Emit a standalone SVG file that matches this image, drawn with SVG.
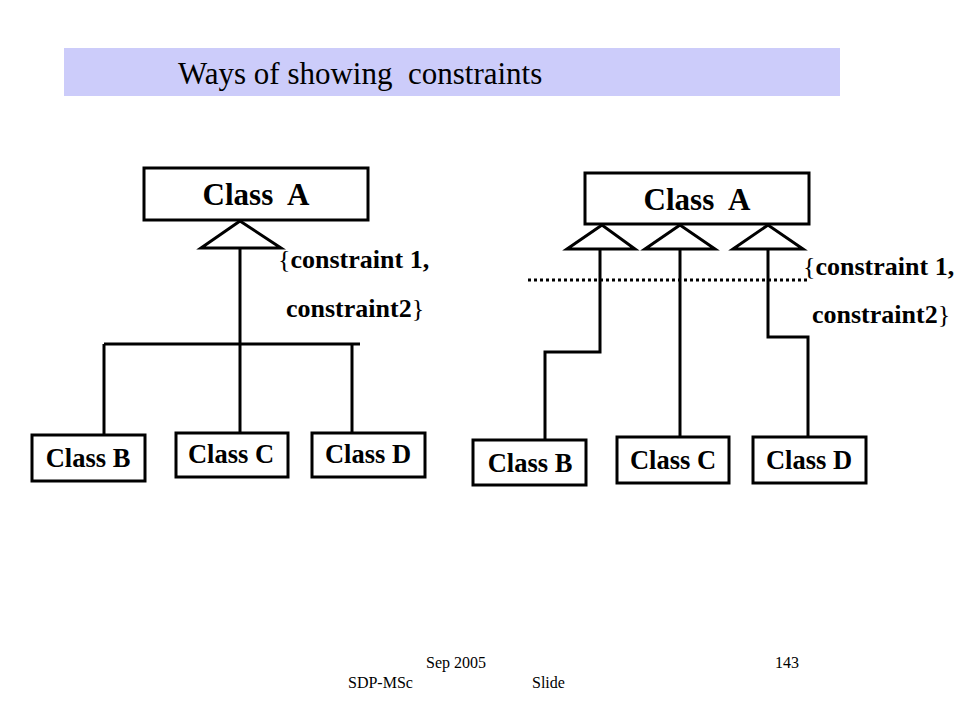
<svg xmlns="http://www.w3.org/2000/svg" width="960" height="720" viewBox="0 0 960 720">
<style>
.box{fill:#fff;stroke:#000;stroke-width:3}
.tri{fill:#fff;stroke:#000;stroke-width:3;stroke-linejoin:miter}
.ln{fill:none;stroke:#000;stroke-width:3}
.dot{fill:none;stroke:#000;stroke-width:3;stroke-dasharray:3 3}
.big{font-weight:bold;font-size:31px;text-anchor:middle}
.cls{font-weight:bold;font-size:26.5px;text-anchor:middle}
.con{font-weight:bold;font-size:26px}
.br{font-weight:normal}
.ttl{font-size:31px}
.foot{font-size:16px}
</style>
<rect width="960" height="720" fill="#fff"/>
<rect x="64" y="48" width="776" height="48" fill="#CCCCFA"/>
<g font-family="Liberation Serif">
<text class="ttl" x="178" y="84" xml:space="preserve">Ways of showing  constraints</text>

<g id="connectors">
  <line class="ln" x1="240" y1="248" x2="240" y2="433"/>
  <line class="ln" x1="104" y1="344" x2="360" y2="344"/>
  <line class="ln" x1="104" y1="344" x2="104" y2="435"/>
  <line class="ln" x1="352" y1="344" x2="352" y2="433"/>
  <polygon class="tri" points="240,221 201,248 281,248"/>
  <line class="dot" x1="528" y1="280" x2="807" y2="280"/>
  <polyline class="ln" points="600,249 600,352 545,352 545,440"/>
  <line class="ln" x1="680" y1="249" x2="680" y2="437"/>
  <polyline class="ln" points="768,249 768,337 808,337 808,437"/>
  <polygon class="tri" points="602,225 567,249 635,249"/>
  <polygon class="tri" points="680,225 645,249 715,249"/>
  <polygon class="tri" points="768,225 733,249 803,249"/>
</g>

<g id="left-classA">
  <rect class="box" x="144" y="168" width="224" height="52"/>
  <text class="big" x="256" y="205" xml:space="preserve">Class  A</text>
</g>
<g id="left-classB">
  <rect class="box" x="32" y="435" width="113" height="46"/>
  <text class="cls" x="88" y="467">Class B</text>
</g>
<g id="left-classC">
  <rect class="box" x="176" y="433" width="112" height="44"/>
  <text class="cls" x="231" y="463">Class C</text>
</g>
<g id="left-classD">
  <rect class="box" x="312" y="433" width="113" height="44"/>
  <text class="cls" x="368" y="463">Class D</text>
</g>
<g id="left-constraint">
  <text class="con" x="278" y="268"><tspan class="br">{</tspan>constraint 1,</text>
  <text class="con" x="286" y="317">constraint2<tspan class="br">}</tspan></text>
</g>

<g id="right-classA">
  <rect class="box" x="585" y="173" width="224" height="51"/>
  <text class="big" x="697" y="210" xml:space="preserve">Class  A</text>
</g>
<g id="right-classB">
  <rect class="box" x="473" y="440" width="113" height="45"/>
  <text class="cls" x="530" y="472">Class B</text>
</g>
<g id="right-classC">
  <rect class="box" x="617" y="437" width="112" height="46"/>
  <text class="cls" x="673" y="469">Class C</text>
</g>
<g id="right-classD">
  <rect class="box" x="753" y="437" width="113" height="46"/>
  <text class="cls" x="809" y="469">Class D</text>
</g>
<g id="right-constraint">
  <text class="con" x="803" y="275"><tspan class="br">{</tspan>constraint 1,</text>
  <text class="con" x="812" y="323">constraint2<tspan class="br">}</tspan></text>
</g>

<text class="foot" x="426" y="668">Sep 2005</text>
<text class="foot" x="775" y="668">143</text>
<text class="foot" x="348" y="688">SDP-MSc</text>
<text class="foot" x="532" y="688">Slide</text>
</g>
</svg>
